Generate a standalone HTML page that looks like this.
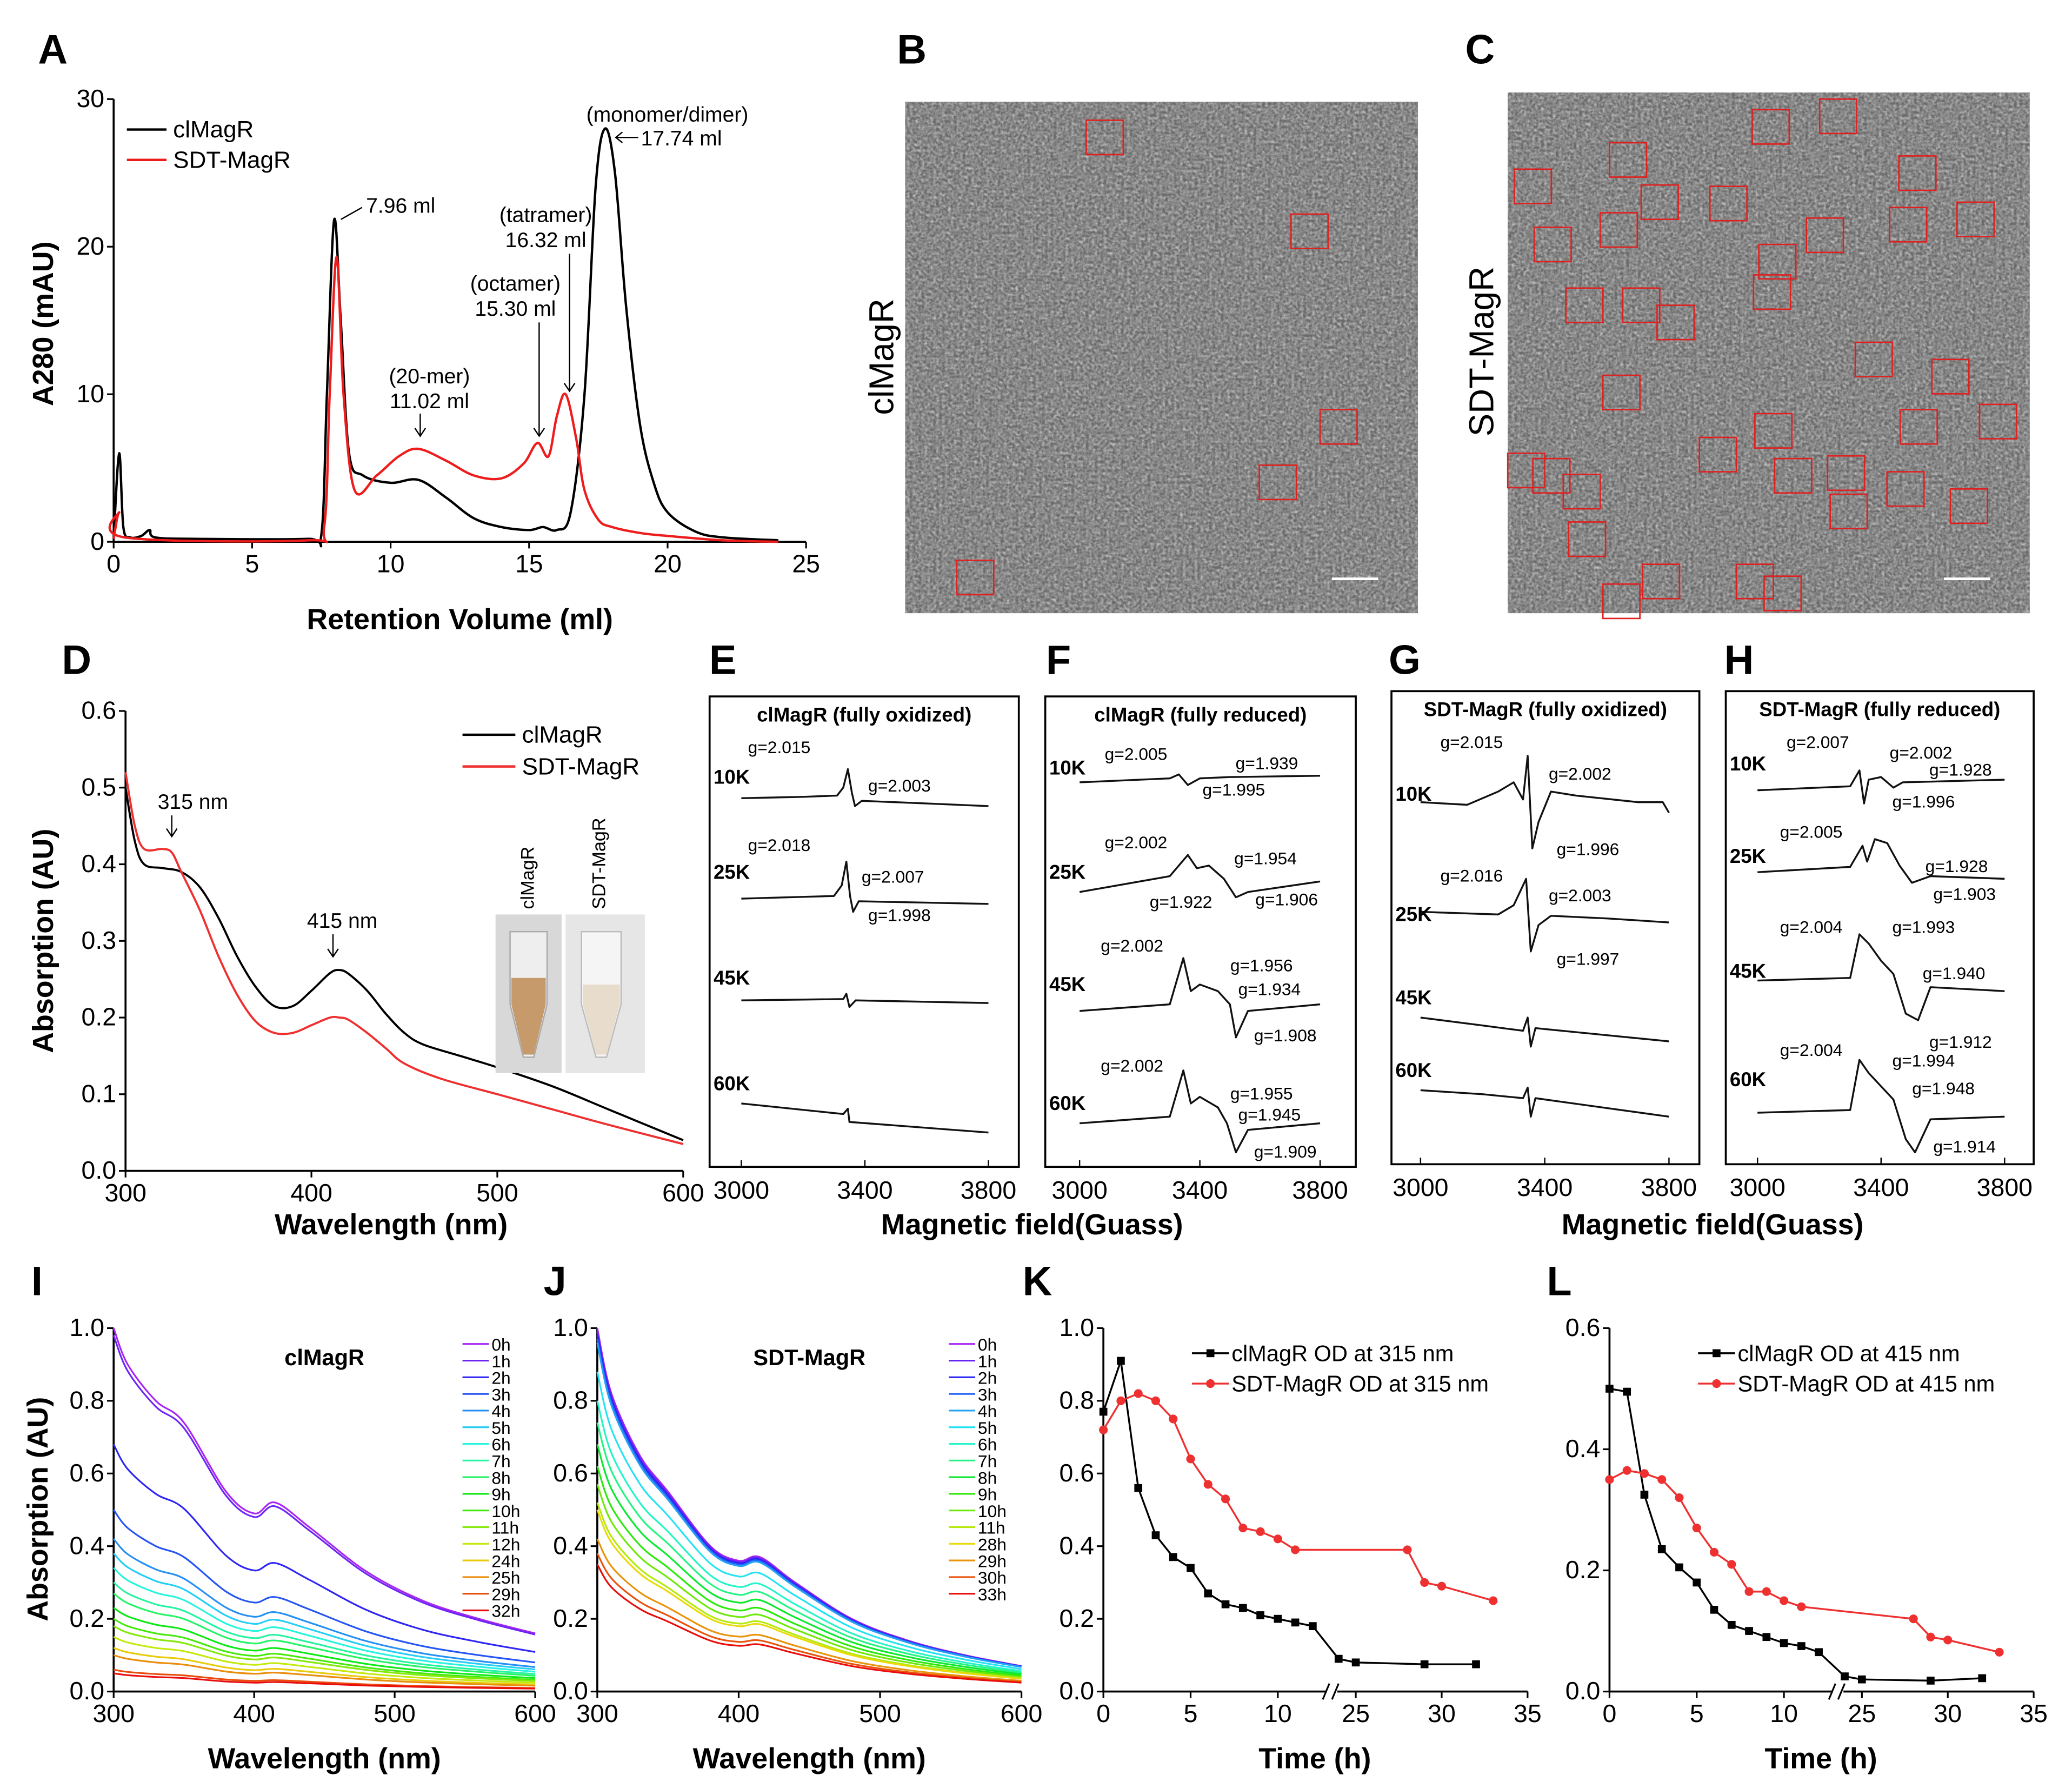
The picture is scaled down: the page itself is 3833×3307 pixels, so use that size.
<!DOCTYPE html>
<html><head><meta charset="utf-8"><style>
html,body{margin:0;padding:0;background:#fff}
svg{display:block;font-family:"Liberation Sans",Arial,sans-serif}
</style></head><body>
<svg id="fig" xmlns="http://www.w3.org/2000/svg" width="3833" height="3307" viewBox="0 0 1568 1353" preserveAspectRatio="none">
<defs>
<filter id="tem" x="0" y="0" width="100%" height="100%">
<feTurbulence type="fractalNoise" baseFrequency="0.45" numOctaves="2" seed="3"/>
<feColorMatrix type="matrix" values="0 0 0 0 0.6  0 0 0 0 0.6  0 0 0 0 0.6  0.8 0.8 0.8 0 -0.9"/>
</filter>
</defs>
<rect width="1568" height="1353" fill="#fff"/>
</svg>
<script>
// ---------- DATA ----------
const aBlack=[[0,0.2],[0.2,6],[0.35,1],[0.6,0.3],[1,0.4],[1.3,0.8],[1.5,0.3],[3,0.2],[7,0.2],[7.5,0.5],[7.7,10],[7.96,21.8],[8.2,15],[8.5,6],[9,4.5],[10,4],[11,4.2],[12,3],[13,1.6],[14,1],[15,0.8],[15.5,1],[16,0.8],[16.5,2],[17,10],[17.4,24],[17.74,28],[18.1,25],[18.5,16],[19,8],[19.5,4],[20,2],[21,0.7],[22,0.3],[24,0.1]];
const aRed=[[0,0.2],[0.2,2],[0.4,0.3],[7,0.1],[7.6,1],[7.8,10],[8.05,19.3],[8.3,10],[8.7,3.5],[9.5,4.5],[10.3,5.8],[11,6.3],[12,5.5],[13,4.5],[14,4.3],[14.8,5.3],[15.3,6.7],[15.7,5.8],[16,8.5],[16.32,10],[16.7,7],[17,3.5],[17.5,1.5],[18,1],[19,0.6],[20,0.4],[22,0.1],[24,0]];
const aXTicks=[0,5,10,15,20,25];
const aYTicks=[0,10,20,30];
const dBlack=[[300,.5],[305,.43],[310,.40],[320,.395],[330,.39],[340,.37],[350,.33],[360,.28],[370,.24],[380,.215],[390,.215],[400,.235],[410,.258],[415,.262],[420,.257],[430,.235],[440,.205],[450,.18],[460,.165],[480,.15],[500,.135],[530,.11],[560,.08],[600,.04]];
const dRed=[[300,.52],[305,.45],[310,.42],[320,.42],[325,.415],[330,.39],[340,.34],[350,.28],[360,.23],[370,.195],[380,.18],[390,.18],[400,.19],[410,.2],[415,.2],[420,.197],[430,.18],[440,.16],[450,.14],[470,.12],[500,.1],[530,.08],[560,.06],[600,.035]];
const dYTicks=[0,0.1,0.2,0.3,0.4,0.5,0.6];
const wlTicks=[300,400,500,600];
const wlGrid=[300,310,330,350,380,400,415,440,480,520,560,600];
const iShape=[1.0,0.9,0.8,0.74,0.55,0.49,0.52,0.45,0.33,0.25,0.2,0.16];
const iScale=[1,0.98,0.68,0.5,0.42,0.38,0.34,0.3,0.27,0.23,0.2,0.18,0.15,0.12,0.1,0.06,0.05];
const iLabels=["0h","1h","2h","3h","4h","5h","6h","7h","8h","9h","10h","11h","12h","24h","25h","29h","32h"];
const jShape=[1.0,0.82,0.65,0.55,0.4,0.36,0.37,0.3,0.2,0.14,0.1,0.07];
const jScale=[1,0.99,0.98,0.97,0.96,0.88,0.8,0.74,0.68,0.62,0.57,0.52,0.5,0.42,0.38,0.35];
const jLabels=["0h","1h","2h","3h","4h","5h","6h","7h","8h","9h","10h","11h","28h","29h","30h","33h"];
const ijYTicks=[0,0.2,0.4,0.6,0.8,1.0];
const kT1=[0,1,2,3,4,5,6,7,8,9,10,11,12,24,25,29,32];
const kBlack=[0.77,0.91,0.56,0.43,0.37,0.34,0.27,0.24,0.23,0.21,0.2,0.19,0.18,0.09,0.08,0.075,0.075];
const kT2=[0,1,2,3,4,5,6,7,8,9,10,11,28,29,30,33];
const kRed=[0.72,0.8,0.82,0.8,0.75,0.64,0.57,0.53,0.45,0.44,0.42,0.39,0.39,0.3,0.29,0.25];
const lBlack=[0.5,0.495,0.325,0.235,0.205,0.18,0.135,0.11,0.1,0.09,0.08,0.075,0.065,0.025,0.02,0.018,0.022];
const lRed=[0.35,0.365,0.36,0.35,0.32,0.27,0.23,0.21,0.165,0.165,0.15,0.14,0.12,0.09,0.085,0.065];
const timeTicks=[0,5,10,25,30,35];
const kYTicks=[0,0.2,0.4,0.6,0.8,1.0];
const lYTicks=[0,0.2,0.4,0.6];
const eprTicks=[3000,3400,3800];
const eprE=[[[3000,0],[3200,1],[3310,2],[3330,8],[3345,22],[3358,4],[3368,-6],[3390,-2],[3600,-4],[3800,-6]],[[3000,0],[3300,2],[3325,10],[3340,28],[3352,2],[3362,-10],[3380,-2],[3800,-4]],[[3000,0],[3330,1],[3340,5],[3350,-5],[3370,0],[3800,-2]],[[3000,0],[3330,-8],[3345,-4],[3350,-14],[3800,-22]]];
const eprF=[[[3000,0],[3300,3],[3330,6],[3360,-2],[3400,3],[3500,4],[3800,5]],[[3000,0],[3300,12],[3360,28],[3390,18],[3430,20],[3480,10],[3520,-4],[3560,0],[3800,8]],[[3000,0],[3300,5],[3345,40],[3370,15],[3400,20],[3460,15],[3500,5],[3520,-20],[3560,0],[3800,5]],[[3000,0],[3300,5],[3345,40],[3370,15],[3400,20],[3460,12],[3490,0],[3520,-22],[3560,-5],[3800,0]]];
const eprG=[[[3000,0],[3150,-2],[3250,8],[3300,15],[3330,2],[3345,35],[3360,-35],[3380,-15],[3420,8],[3500,5],[3700,0],[3780,0],[3800,-8]],[[3000,0],[3250,-2],[3300,5],[3340,25],[3355,-30],[3380,-10],[3420,-3],[3600,-5],[3800,-8]],[[3000,0],[3200,-6],[3330,-10],[3345,0],[3355,-22],[3370,-8],[3800,-18]],[[3000,0],[3200,-3],[3330,-6],[3345,2],[3355,-20],[3370,-6],[3800,-20]]];
const eprH=[[[3000,0],[3300,3],[3330,15],[3345,-10],[3360,8],[3400,10],[3440,2],[3470,6],[3800,8]],[[3000,0],[3300,4],[3340,20],[3355,8],[3380,25],[3420,22],[3460,5],[3500,-8],[3560,-3],[3800,-5]],[[3000,0],[3300,2],[3330,35],[3360,28],[3400,15],[3440,5],[3480,-25],[3520,-30],[3560,-5],[3800,-8]],[[3000,0],[3300,2],[3330,40],[3360,30],[3400,20],[3440,10],[3480,-20],[3510,-30],[3560,-5],[3800,-3]]];
const tempLabels=["10K","25K","45K","60K"];
const boxB=[[822,91],[977,162],[999,310],[953,352],[724,424]];
const boxC=[[1326,83],[1377,75],[1218,108],[1437,118],[1146,128],[1242,140],[1294,141],[1161,172],[1211,161],[1367,165],[1430,157],[1481,153],[1331,185],[1327,208],[1185,218],[1228,218],[1254,231],[1404,259],[1462,272],[1213,284],[1286,331],[1328,313],[1438,310],[1498,306],[1141,343],[1160,347],[1183,359],[1343,347],[1383,345],[1428,357],[1385,374],[1476,370],[1187,395],[1243,427],[1314,427],[1335,436],[1213,442]];

// ---------- HELPERS ----------
const NS="http://www.w3.org/2000/svg";
const S=document.getElementById('fig');
function mk(tag,a,p){const e=document.createElementNS(NS,tag);for(const k in a)e.setAttribute(k,a[k]);(p||S).appendChild(e);return e;}
function lin(d0,d1,r0,r1){return v=>r0+(v-d0)*(r1-r0)/(d1-d0);}
function T(x,y,s,size,o){o=o||{};const e=mk('text',{x:x,y:y,'font-size':size,'text-anchor':o.a||'start','font-weight':o.b?'bold':'normal',fill:o.c||'#000'});if(o.rot)e.setAttribute('transform','rotate(-90 '+x+' '+y+')');e.textContent=s;return e;}
function line(pts,color,w){return mk('polyline',{points:pts.map(p=>p[0].toFixed(2)+','+p[1].toFixed(2)).join(' '),fill:'none',stroke:color,'stroke-width':w||1.6,'stroke-linejoin':'round'});}
function smooth(pts,color,w){
  let d='M'+pts[0][0].toFixed(2)+','+pts[0][1].toFixed(2);
  for(let i=0;i<pts.length-1;i++){
    const p0=pts[Math.max(0,i-1)],p1=pts[i],p2=pts[i+1],p3=pts[Math.min(pts.length-1,i+2)];
    const c1=[p1[0]+(p2[0]-p0[0])/6,p1[1]+(p2[1]-p0[1])/6],c2=[p2[0]-(p3[0]-p1[0])/6,p2[1]-(p3[1]-p1[1])/6];
    d+=' C'+c1.map(v=>v.toFixed(2)).join(',')+' '+c2.map(v=>v.toFixed(2)).join(',')+' '+p2.map(v=>v.toFixed(2)).join(',');
  }
  return mk('path',{d:d,fill:'none',stroke:color,'stroke-width':w||1.6,'stroke-linejoin':'round'});
}
function axesLB(x0,x1,y0,y1,xs,ys,xt,yt,fs,dec,box){
  const ax=mk('path',{d:box?`M${x0},${y0}H${x1}V${y1}H${x0}Z`:`M${x0},${y1}V${y0}H${x1}`,fill:'none',stroke:'#000','stroke-width':1.5});
  
  
  xt.forEach(v=>{const X=xs(v);mk('line',{x1:X,x2:X,y1:y0,y2:y0+5,stroke:'#000','stroke-width':1.3});
    const t=T(X,y0+23,String(v),fs,{a:'middle'});
    
    });
  if(yt)yt.forEach(v=>{const Y=ys(v);mk('line',{x1:x0,x2:x0-5,y1:Y,y2:Y,stroke:'#000','stroke-width':1.3});
    const t=T(x0-7,Y+6,dec!=null?v.toFixed(dec):String(v),fs,{a:'end'});
    
    });
}
function panelLetter(x,y,s){const t=T(x,y,s,31,{b:true,a:'middle'});
  
  }

// ---------- PANEL A ----------
panelLetter(40,48,'A');
{const xs=lin(0,25,86,610),ys=lin(0,30,410,75);
axesLB(86,610,410,75,xs,ys,aXTicks,aYTicks,19);
const b=smooth(aBlack.map(p=>[xs(p[0]),ys(p[1])]),'#000',1.8);


const r=smooth(aRed.map(p=>[xs(p[0]),ys(p[1])]),'#ee1c1c',1.8);


T(348,476,'Retention Volume (ml)',22,{b:true,a:'middle'});
T(40,245,'A280 (mAU)',22,{b:true,a:'middle',rot:true});
mk('line',{x1:96,x2:126,y1:98,y2:98,stroke:'#000','stroke-width':1.8});T(131,104,'clMagR',18);
mk('line',{x1:96,x2:126,y1:121,y2:121,stroke:'#ee1c1c','stroke-width':1.8});T(131,127,'SDT-MagR',18);
T(277,161,'7.96 ml',16);mk('path',{d:'M274,157 L258,166',stroke:'#000',fill:'none'});
T(325,290,'(20-mer)',16,{a:'middle'});T(325,309,'11.02 ml',16,{a:'middle'});mk('path',{d:'M318,313 V330 M314,324 L318,330 L322,324',stroke:'#000',fill:'none'});
T(390,220,'(octamer)',16,{a:'middle'});T(390,239,'15.30 ml',16,{a:'middle'});mk('path',{d:'M408,244 V330 M404,324 L408,330 L412,324',stroke:'#000',fill:'none'});
T(413,168,'(tatramer)',16,{a:'middle'});T(413,187,'16.32 ml',16,{a:'middle'});mk('path',{d:'M431,192 V296 M427,290 L431,296 L435,290',stroke:'#000',fill:'none'});
T(505,92,'(monomer/dimer)',16,{a:'middle'});T(485,110,'17.74 ml',16);mk('path',{d:'M483,104 H466 M471,100 L466,104 L471,108',stroke:'#000',fill:'none'});
}

// ---------- PANEL B & C ----------
panelLetter(690,48,'B');panelLetter(1120,48,'C');
function tem(x,y,w,h,boxes,name,lab,lx,ly){
  const g=mk('g',{});
  mk('rect',{x:x,y:y,width:w,height:h,fill:'#6a6a6a'},g);
  mk('rect',{x:x,y:y,width:w,height:h,filter:'url(#tem)'},g);
  boxes.forEach(b=>{const r=mk('rect',{x:b[0],y:b[1],width:28,height:26,fill:'none',stroke:'#e02020','stroke-width':1.1},g);
    
    });
  mk('line',{x1:x+w-65,x2:x+w-30,y1:y+h-26,y2:y+h-26,stroke:'#fff','stroke-width':2},g);
  const t=T(lx,ly,lab,26,{a:'middle',rot:true});
  
  
}
tem(685,77,388,387,boxB,'tem-image-clmagr','clMagR',676,270);
tem(1141,70,395,394,boxC,'tem-image-sdt-magr','SDT-MagR',1130,266);

// ---------- PANEL D ----------
panelLetter(58,510,'D');
{const xs=lin(300,600,95,517),ys=lin(0,0.6,886,538);
axesLB(95,517,886,538,xs,ys,wlTicks,dYTicks,19,1);
const b=smooth(dBlack.map(p=>[xs(p[0]),ys(p[1])]),'#000',1.6);


const r=smooth(dRed.map(p=>[xs(p[0]),ys(p[1])]),'#ee3030',1.6);


T(296,934,'Wavelength (nm)',22,{b:true,a:'middle'});
T(40,712,'Absorption (AU)',22,{b:true,a:'middle',rot:true});
mk('line',{x1:350,x2:390,y1:556,y2:556,stroke:'#000','stroke-width':1.8});T(395,562,'clMagR',18);
mk('line',{x1:350,x2:390,y1:580,y2:580,stroke:'#ee3030','stroke-width':1.8});T(395,586,'SDT-MagR',18);
T(146,612,'315 nm',16,{a:'middle'});mk('path',{d:'M130,617 V633 M126,627 L130,633 L134,627',stroke:'#000',fill:'none'});
T(259,702,'415 nm',16,{a:'middle'});mk('path',{d:'M252,707 V724 M248,718 L252,724 L256,718',stroke:'#000',fill:'none'});
const g=mk('g',{});
mk('rect',{x:375,y:692,width:50,height:120,fill:'#d8d8d8'},g);mk('rect',{x:428,y:692,width:60,height:120,fill:'#e6e6e6'},g);
mk('path',{d:'M386,705 H414 V760 L404,800 H396 L386,760 Z',fill:'#eee',stroke:'#aaa'},g);
mk('path',{d:'M387,740 H413 V760 L404,798 H396 L387,760 Z',fill:'#c69a6a'},g);
mk('path',{d:'M440,705 H470 V760 L459,800 H451 L440,760 Z',fill:'#f5f5f5',stroke:'#bbb'},g);
mk('path',{d:'M441,745 H469 V760 L459,798 H451 L441,760 Z',fill:'#e8dccd'},g);
T(404,688,'clMagR',14,{a:'start',rot:true});T(458,688,'SDT-MagR',14,{a:'start',rot:true});
}

// ---------- PANELS E-H ----------
function epr(letter,bx0,bx1,by0,by1,title,x3000,x3800,traces,bases,labY,glabels){
  panelLetter(bx0+10,510,letter);
  const g=mk('g',{});
  const xs=lin(3000,3800,x3000,x3800);
  mk('rect',{x:bx0,y:by0,width:bx1-bx0,height:by1-by0,fill:'none',stroke:'#000','stroke-width':1.5},g);
  eprTicks.forEach(v=>{mk('line',{x1:xs(v),x2:xs(v),y1:by1,y2:by1-5,stroke:'#000'},g);T(xs(v),by1+24,String(v),19,{a:'middle'});});
  T((bx0+bx1)/2,by0+19,title,15,{b:true,a:'middle'});
  traces.forEach((tr,i)=>{const p=line(tr.map(q=>[xs(q[0]),bases[i]-q[1]]),'#111',1.4);
    
    
    T(bx0+3,labY[i],tempLabels[i],15,{b:true});});
  glabels.forEach(l=>T(l[0],l[1],l[2],13));
}
epr('E',537,771,527,883,'clMagR (fully oxidized)',561,748,eprE,[604,680,757,835],[593,665,745,825],
 [[566,570,'g=2.015'],[657,599,'g=2.003'],[566,644,'g=2.018'],[652,668,'g=2.007'],[657,697,'g=1.998']]);
epr('F',791,1026,527,883,'clMagR (fully reduced)',817,999,eprF,[592,675,765,850],[586,665,750,840],
 [[836,575,'g=2.005'],[935,582,'g=1.939'],[910,602,'g=1.995'],[836,642,'g=2.002'],[934,654,'g=1.954'],[870,687,'g=1.922'],[950,685,'g=1.906'],[833,720,'g=2.002'],[931,735,'g=1.956'],[937,753,'g=1.934'],[949,788,'g=1.908'],[833,811,'g=2.002'],[931,832,'g=1.955'],[937,848,'g=1.945'],[949,876,'g=1.909']]);
epr('G',1053,1286,523,881,'SDT-MagR (fully oxidized)',1075,1263,eprG,[607,690,770,825],[606,697,760,815],
 [[1090,566,'g=2.015'],[1172,590,'g=2.002'],[1178,647,'g=1.996'],[1090,667,'g=2.016'],[1172,682,'g=2.003'],[1178,730,'g=1.997']]);
epr('H',1306,1539,523,881,'SDT-MagR (fully reduced)',1330,1517,eprH,[598,660,742,842],[583,653,740,822],
 [[1352,566,'g=2.007'],[1430,574,'g=2.002'],[1460,587,'g=1.928'],[1432,611,'g=1.996'],[1347,634,'g=2.005'],[1457,660,'g=1.928'],[1463,681,'g=1.903'],[1347,706,'g=2.004'],[1432,706,'g=1.993'],[1455,741,'g=1.940'],[1460,793,'g=1.912'],[1347,799,'g=2.004'],[1432,807,'g=1.994'],[1447,828,'g=1.948'],[1463,872,'g=1.914']]);
T(781,934,'Magnetic field(Guass)',22,{b:true,a:'middle'});
T(1296,934,'Magnetic field(Guass)',22,{b:true,a:'middle'});

// ---------- PANELS I, J ----------
function spectra(letter,lx,x0,x1,shape,scales,labels,title,legX){
  panelLetter(lx,980,letter);
  const xs=lin(300,600,x0,x1),ys=lin(0,1,1280,1005);
  axesLB(x0,x1,1280,1005,xs,ys,wlTicks,ijYTicks,19,1);
  const n=scales.length;
  scales.forEach((s,i)=>{const col='hsl('+Math.round(278-278*i/(n-1))+',90%,'+(i<n/2?55:48)+'%)';
    const p=smooth(wlGrid.map((w,k)=>[xs(w),ys(shape[k]*s)]),col,1.3);
    
    
    const ly=1017+i*12.6;
    mk('line',{x1:legX,x2:legX+20,y1:ly,y2:ly,stroke:col,'stroke-width':1.3});
    T(legX+22,ly+5,labels[i],13);});
  T((x0+x1)/2,1033,title,17,{b:true,a:'middle'});
  T((x0+x1)/2,1338,'Wavelength (nm)',22,{b:true,a:'middle'});
}
spectra('I',28,86,405,iShape,iScale,iLabels,'clMagR',350);
spectra('J',420,452,773,jShape,jScale,jLabels,'SDT-MagR',718);
T(36,1142,'Absorption (AU)',22,{b:true,a:'middle',rot:true});

// ---------- PANELS K, L ----------
function timeplot(letter,lx,x0,ymax,yt,tB,vB,tR,vR,n1,n2){
  panelLetter(lx,980,letter);
  const t1=lin(0,5,x0,x0+66),t2=lin(25,30,x0+191,x0+256);
  const xs=t=>t<20?t1(t):t2(t);
  const ys=lin(0,ymax,1280,1005);
  axesLB(x0,x0+321,1280,1005,xs,ys,timeTicks,yt,19,1);
  mk('rect',{x:x0+169,y:1272,width:8,height:14,fill:'#fff'});
  mk('path',{d:`M${x0+166},1286 l5,-12 M${x0+173},1286 l5,-12`,stroke:'#000','stroke-width':1.3,fill:'none'});
  [[tB,vB,'#000',n1,'square'],[tR,vR,'#ee3030',n2,'circle']].forEach(s=>{
    const pts=s[0].map((t,i)=>[xs(t),ys(s[1][i])]);
    const p=line(pts,s[2],1.4);
    
    
    pts.forEach(q=>{const m=s[4]=='square'?mk('rect',{x:q[0]-3,y:q[1]-3,width:6,height:6,fill:s[2]}):mk('circle',{cx:q[0],cy:q[1],r:3.3,fill:s[2]});
      
      });
  });
  mk('line',{x1:x0+67,x2:x0+95,y1:1024,y2:1024,stroke:'#000','stroke-width':1.4});mk('rect',{x:x0+78,y:1021,width:6,height:6});T(x0+97,1030,n1,17);
  mk('line',{x1:x0+67,x2:x0+95,y1:1047,y2:1047,stroke:'#ee3030','stroke-width':1.4});mk('circle',{cx:x0+81,cy:1047,r:3.3,fill:'#ee3030'});T(x0+97,1053,n2,17);
  T(x0+160,1338,'Time (h)',22,{b:true,a:'middle'});
}
timeplot('K',785,835,1.0,kYTicks,kT1,kBlack,kT2,kRed,'clMagR OD at 315 nm','SDT-MagR OD at 315 nm');
timeplot('L',1180,1218,0.6,lYTicks,kT1,lBlack,kT2,lRed,'clMagR OD at 415 nm','SDT-MagR OD at 415 nm');
</script>
</body></html>
